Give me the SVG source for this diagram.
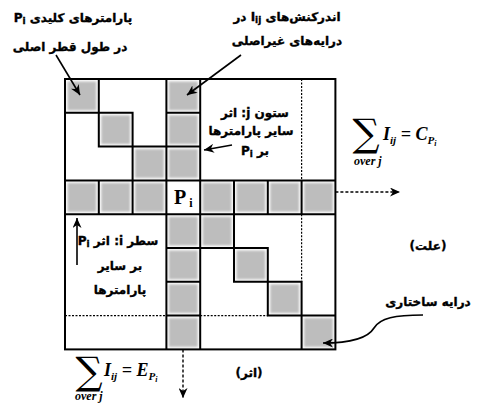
<svg xmlns="http://www.w3.org/2000/svg" width="478" height="404" viewBox="0 0 478 404">
<style>
.fa{font-family:"DejaVu Sans",sans-serif;font-weight:bold;font-size:12px;fill:#000;stroke:#000;stroke-width:0.35;text-anchor:middle;direction:rtl}
.m{font-family:"Liberation Serif",serif;font-weight:bold;font-style:italic;font-size:18px;fill:#000}
.ov{font-family:"Liberation Serif",serif;font-weight:bold;font-style:italic;font-size:12px;fill:#000}
.sig{font-family:"DejaVu Serif",serif;font-size:38px;fill:#000;text-anchor:middle}
.pi{font-family:"Liberation Serif",serif;font-weight:bold;font-size:20px;fill:#000;text-anchor:middle}
.g{fill:#bdbdbd;filter:url(#soft)}
.ln{fill:none;stroke:#000;stroke-width:2}
.dot{fill:none;stroke:#000;stroke-width:1.2;stroke-dasharray:2 1.5}
.ar{fill:none;stroke:#000;stroke-width:1.6;marker-end:url(#ah)}
.da{fill:none;stroke:#000;stroke-width:1.4;stroke-dasharray:3 2;marker-end:url(#ah)}
</style>
<defs>
<filter id="soft" x="-10%" y="-10%" width="120%" height="120%"><feGaussianBlur stdDeviation="0.8"/></filter>
<marker id="ah" markerWidth="11" markerHeight="9" refX="10" refY="4.5" orient="auto" markerUnits="userSpaceOnUse">
<path d="M0,0 L10,4.5 L0,9 L3,4.5 z" fill="#000"/>
</marker>
</defs>
<rect width="478" height="404" fill="#fff"/>
<g id="cells">
<rect class="g" x="67.5" y="81.5" width="28.8" height="28.8"/>
<rect class="g" x="101.3" y="115.3" width="28.8" height="28.8"/>
<rect class="g" x="135.1" y="149.1" width="28.8" height="28.8"/>
<rect class="g" x="202.7" y="216.7" width="28.8" height="28.8"/>
<rect class="g" x="236.5" y="250.5" width="28.8" height="28.8"/>
<rect class="g" x="270.3" y="284.3" width="28.8" height="28.8"/>
<rect class="g" x="304.1" y="318.1" width="28.8" height="28.8"/>
<rect class="g" x="168.9" y="81.5" width="28.8" height="28.8"/>
<rect class="g" x="168.9" y="115.3" width="28.8" height="28.8"/>
<rect class="g" x="168.9" y="149.1" width="28.8" height="28.8"/>
<rect class="g" x="168.9" y="216.7" width="28.8" height="28.8"/>
<rect class="g" x="168.9" y="250.5" width="28.8" height="28.8"/>
<rect class="g" x="168.9" y="284.3" width="28.8" height="28.8"/>
<rect class="g" x="168.9" y="318.1" width="28.8" height="28.8"/>
<rect class="g" x="67.5" y="182.9" width="28.8" height="28.8"/>
<rect class="g" x="101.3" y="182.9" width="28.8" height="28.8"/>
<rect class="g" x="135.1" y="182.9" width="28.8" height="28.8"/>
<rect class="g" x="202.7" y="182.9" width="28.8" height="28.8"/>
<rect class="g" x="236.5" y="182.9" width="28.8" height="28.8"/>
<rect class="g" x="270.3" y="182.9" width="28.8" height="28.8"/>
<rect class="g" x="304.1" y="182.9" width="28.8" height="28.8"/>
</g>
<g id="grid">
<path class="dot" d="M301.6,79 V180.4 M301.6,214.2 V281.8 M65,315.6 H166.4 M200.2,315.6 H267.8"/>
<rect class="ln" x="65" y="79" width="270.4" height="270.4"/>
<path class="ln" d="M65,180.4 H335.4 M65,214.2 H335.4 M166.4,79 V349.4 M200.2,79 V349.4
M98.8,180.4 V214.2 M132.6,180.4 V214.2 M234,180.4 V214.2 M267.8,180.4 V214.2 M301.6,180.4 V214.2
M166.4,112.8 H200.2 M166.4,146.6 H200.2 M166.4,248 H200.2 M166.4,281.8 H200.2 M166.4,315.6 H200.2
M98.8,79 V146.6 H166.4 M65,112.8 H132.6 V180.4
M234,214.2 V281.8 H301.6 V349.4 M200.2,248 H267.8 V315.6 H335.4"/>
</g>
<g id="pi-cell">
<text class="pi" x="180" y="204">P</text>
<text class="pi" x="191" y="207" style="font-size:12px">i</text>
</g>
<g id="connectors">
<path class="ar" d="M56,55 L80,95"/>
<path class="ar" d="M241,55 L187,95"/>
<path class="ar" d="M232,145 L204,150"/>
<path class="ar" d="M77,265 L77,218"/>
<path class="da" d="M335.4,192 L400,192"/>
<path class="da" d="M183,349.4 L183,398"/>
<path class="ar" d="M423,315 C395,315 380,318 374,328 C368,338 350,343 323,343"/>
</g>
<g id="label-diag">
<text class="fa" x="73" y="22">پارامترهای کلیدی P<tspan style="font-size:9px" baseline-shift="-2">i</tspan></text>
<text class="fa" x="70" y="51">در طول قطر اصلی</text>
</g>
<g id="label-offdiag">
<text class="fa" x="287" y="21">اندرکنش‌های I<tspan style="font-size:9px" baseline-shift="-2">ij</tspan> در</text>
<text class="fa" x="287" y="45">درایه‌های غیراصلی</text>
</g>
<g id="label-col">
<text class="fa" x="255" y="117">ستون j: اثر</text>
<text class="fa" x="251" y="135">سایر پارامترها</text>
<text class="fa" x="255" y="155">بر P<tspan style="font-size:9px" baseline-shift="-2">i</tspan></text>
</g>
<g id="label-row">
<text class="fa" x="118" y="245">سطر i: اثر P<tspan style="font-size:9px" baseline-shift="-2">i</tspan></text>
<text class="fa" x="120" y="270">بر سایر</text>
<text class="fa" x="120" y="294">پارامترها</text>
</g>
<g id="sum-cause">
<text class="sig" x="366" y="146">∑</text>
<text class="m" x="383" y="140">I<tspan dy="4" style="font-size:11px">ij</tspan><tspan dy="-4"> = C</tspan><tspan dy="4" style="font-size:11px">P</tspan><tspan dy="2" style="font-size:8px">i</tspan></text>
<text class="ov" x="354" y="165">over j</text>
</g>
<g id="sum-effect">
<text class="sig" x="89" y="384">∑</text>
<text class="m" x="104" y="376">I<tspan dy="4" style="font-size:11px">ij</tspan><tspan dy="-4"> = E</tspan><tspan dy="4" style="font-size:11px">P</tspan><tspan dy="2" style="font-size:8px">i</tspan></text>
<text class="ov" x="75" y="400">over j</text>
</g>
<g id="labels-right">
<text class="fa" x="428" y="250">(علت)</text>
<text class="fa" x="428" y="306">درایه ساختاری</text>
<text class="fa" x="249" y="377">(اثر)</text>
</g>
</svg>
